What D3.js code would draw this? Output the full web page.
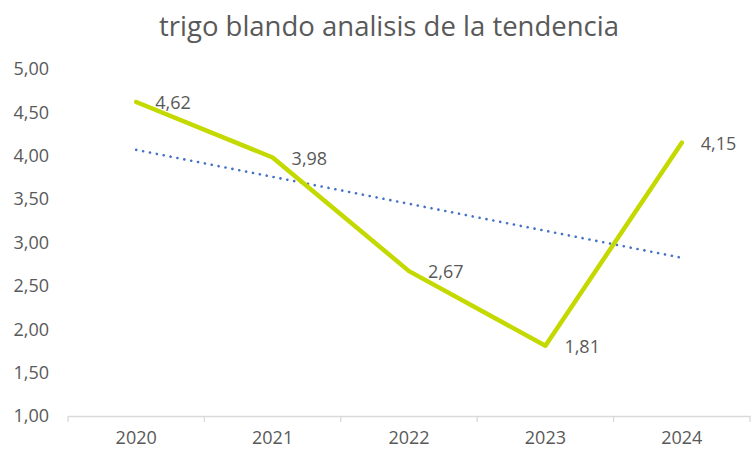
<!DOCTYPE html>
<html>
<head>
<meta charset="utf-8">
<script src="https://cdn.jsdelivr.net/npm/d3@7"></script>
<style>
  body { margin: 0; background: #fff; }
  text { font-family: "Open Sans", "Liberation Sans", sans-serif; fill: #595959; }
</style>
</head>
<body>
<svg id="chart" width="753" height="451"></svg>
<script>
// chart data
const years = ["2020", "2021", "2022", "2023", "2024"];
const values = [4.62, 3.98, 2.67, 1.81, 4.15];
const yTicks = [1, 1.5, 2, 2.5, 3, 3.5, 4, 4.5, 5];

const svg = d3.select("#chart");
const margin = { top: 69, right: 3, bottom: 35, left: 68 };
const width = 753 - margin.left - margin.right;
const height = 451 - margin.top - margin.bottom;

const fmt = v => d3.format(".2f")(v).replace(".", ",");

// title
svg.append("text")
    .attr("x", 389)
    .attr("y", 36)
    .attr("text-anchor", "middle")
    .style("font-size", "27.5px")
    .text("trigo blando analisis de la tendencia");

const g = svg.append("g").attr("transform", `translate(${margin.left},${margin.top})`);

const x = d3.scaleBand().domain(years).range([0, width]);
const y = d3.scaleLinear().domain([1, 5]).range([height, 0]);

// y labels (no axis line)
g.selectAll(".ylab")
    .data(yTicks)
    .enter()
    .append("text")
    .attr("class", "ylab")
    .attr("x", -19)
    .attr("y", d => y(d))
    .attr("dy", "0.35em")
    .attr("text-anchor", "end")
    .style("font-size", "18px")
    .text(fmt);

// x axis
const xAxis = g.append("g")
    .attr("transform", `translate(0,${height})`)
    .call(d3.axisBottom(x).tickSize(0).tickPadding(15));
xAxis.select(".domain").attr("stroke", "#d9d9d9").attr("stroke-width", 1.3);
xAxis.selectAll("text").style("font-size", "18px").attr("fill", "#595959")
    .style("font-family", "\"Open Sans\", sans-serif");

// band boundary ticks
const bounds = years.map(d => x(d)).concat([width]);
xAxis.selectAll(".btick")
    .data(bounds)
    .enter()
    .append("line")
    .attr("x1", d => d).attr("x2", d => d)
    .attr("y1", 0).attr("y2", 6)
    .attr("stroke", "#d9d9d9")
    .attr("stroke-width", 1.3);

const cx = d => x(d) + x.bandwidth() / 2;

// linear trend line (least squares over index)
const n = values.length;
const mx = (n + 1) / 2;
const my = d3.mean(values);
let sxy = 0, sxx = 0;
values.forEach((v, i) => { sxy += (i + 1 - mx) * (v - my); sxx += (i + 1 - mx) ** 2; });
const slope = sxy / sxx;
const trend = years.map((yr, i) => ({ year: yr, v: my + slope * (i + 1 - mx) }));

g.append("path")
    .datum([trend[0], trend[n - 1]])
    .attr("fill", "none")
    .attr("stroke", "#4472c4")
    .attr("stroke-width", 2.6)
    .attr("stroke-linecap", "round")
    .attr("stroke-dasharray", "0.1 6.9")
    .attr("d", d3.line().x(d => cx(d.year)).y(d => y(d.v)));

// main series
const data = years.map((yr, i) => ({ year: yr, v: values[i] }));
g.append("path")
    .datum(data)
    .attr("fill", "none")
    .attr("stroke", "#c4d900")
    .attr("stroke-width", 4.5)
    .attr("stroke-linecap", "round")
    .attr("stroke-linejoin", "round")
    .attr("d", d3.line().x(d => cx(d.year)).y(d => y(d.v)));

// data labels
g.selectAll(".lab")
    .data(data)
    .enter()
    .append("text")
    .attr("class", "lab")
    .attr("x", d => cx(d.year) + 19)
    .attr("y", d => y(d.v) + 1)
    .attr("dy", "0.35em")
    .style("font-size", "18px")
    .attr("fill", "#404040")
    .text(d => fmt(d.v));
</script>
</body>
</html>
